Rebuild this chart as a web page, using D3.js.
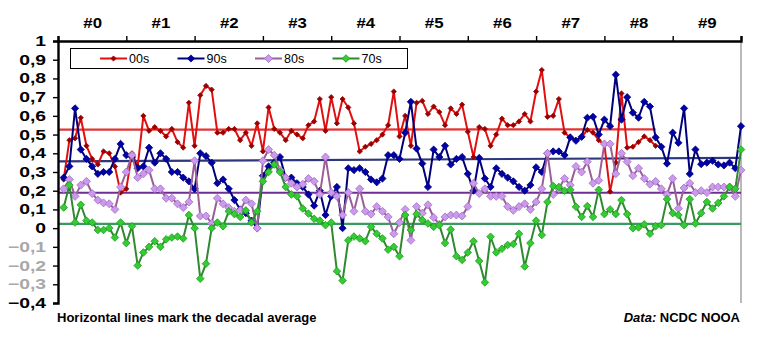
<!DOCTYPE html>
<html>
<head>
<meta charset="utf-8">
<script src="https://cdn.jsdelivr.net/npm/d3@7/dist/d3.min.js"></script>
<style>
  html, body { margin: 0; padding: 0; background: #fff; }
  svg { display: block; font-family: "Liberation Sans", Arial, sans-serif; }
</style>
</head>
<body>
<svg id="chart" width="762" height="345"></svg>
<script>
// ---------------- data ----------------
const seriesNames = ["00s", "90s", "80s", "70s"];
const yearLabels = ["#0", "#1", "#2", "#3", "#4", "#5", "#6", "#7", "#8", "#9"];
const yTicks = [-0.4, -0.3, -0.2, -0.1, 0, 0.1, 0.2, 0.3, 0.4, 0.5, 0.6, 0.7, 0.8, 0.9, 1];

// monthly anomalies, month 0 = January of year #0
const s00 = [0.26,0.47,0.48,0.59,0.44,0.37,0.34,0.41,0.40,0.33,0.19,0.21,
  0.40,0.33,0.60,0.52,0.54,0.52,0.49,0.53,0.46,0.43,0.67,0.44,
  0.71,0.76,0.74,0.51,0.51,0.53,0.53,0.47,0.51,0.44,0.56,0.41,
  0.645,0.53,0.51,0.47,0.52,0.50,0.48,0.55,0.57,0.69,0.52,0.70,
  0.56,0.69,0.645,0.56,0.41,0.435,0.45,0.47,0.50,0.55,0.73,0.49,
  0.60,0.44,0.67,0.68,0.61,0.65,0.62,0.55,0.64,0.61,0.66,0.515,
  0.38,0.54,0.53,0.44,0.50,0.585,0.55,0.55,0.57,0.61,0.57,0.73,
  0.845,0.595,0.60,0.69,0.51,0.485,0.47,0.485,0.525,0.51,0.47,0.445,
  0.195,0.35,0.72,0.43,0.435,0.46,0.49,0.47,0.44];
const s90 = [0.27,0.33,0.64,0.42,0.37,0.33,0.29,0.30,0.30,0.37,0.45,0.39,
  0.38,0.32,0.33,0.43,0.35,0.40,0.37,0.30,0.30,0.27,0.25,0.21,
  0.40,0.385,0.35,0.24,0.26,0.21,0.15,0.10,0.08,0.04,0.0,0.28,
  0.33,0.35,0.38,0.27,0.27,0.24,0.22,0.18,0.12,0.20,0.07,0.17,
  0.22,0.0,0.32,0.31,0.32,0.30,0.26,0.245,0.265,0.39,0.39,0.37,
  0.51,0.675,0.425,0.345,0.22,0.42,0.38,0.44,0.34,0.37,0.38,0.29,
  0.20,0.375,0.265,0.22,0.32,0.29,0.27,0.25,0.22,0.20,0.23,0.325,
  0.30,0.40,0.41,0.41,0.39,0.485,0.467,0.488,0.59,0.595,0.50,0.58,
  0.545,0.82,0.58,0.70,0.617,0.59,0.675,0.65,0.485,0.435,0.345,0.51,
  0.456,0.64,0.29,0.42,0.342,0.35,0.36,0.34,0.335,0.35,0.32,0.545];
const s80 = [0.21,0.26,0.17,0.23,0.25,0.185,0.15,0.135,0.13,0.10,0.22,0.30,
  0.39,0.27,0.29,0.31,0.21,0.21,0.16,0.16,0.13,0.11,0.14,0.36,
  0.065,0.065,0.025,0.16,0.13,0.11,0.09,0.095,0.15,0.13,0.0,0.36,
  0.42,0.39,0.31,0.27,0.24,0.22,0.235,0.265,0.25,0.18,0.38,0.19,
  0.17,0.07,0.19,0.09,0.21,0.09,0.075,0.115,0.09,0.06,-0.03,0.03,
  0.10,-0.065,0.115,0.08,0.125,0.057,0.02,0.06,0.07,0.07,0.065,0.115,
  0.24,0.185,0.21,0.17,0.17,0.17,0.115,0.095,0.115,0.13,0.10,0.14,
  0.21,0.40,0.18,0.21,0.265,0.23,0.33,0.30,0.355,0.24,0.255,0.45,
  0.45,0.29,0.40,0.355,0.28,0.32,0.265,0.235,0.25,0.21,0.18,0.265,
  0.105,0.215,0.24,0.19,0.20,0.19,0.22,0.22,0.22,0.22,0.17,0.31];
const s70 = [0.11,0.23,0.03,0.125,0.04,0.03,-0.01,-0.01,0.0,-0.05,0.03,-0.08,
  0.01,-0.20,-0.13,-0.10,-0.07,-0.10,-0.06,-0.05,-0.045,-0.055,0.07,0.0,
  -0.27,-0.19,0.0,0.03,0.01,0.09,0.075,0.06,0.095,0.03,0.09,0.25,
  0.30,0.34,0.30,0.22,0.18,0.17,0.105,0.078,0.05,0.04,0.016,0.03,
  -0.23,-0.28,-0.065,-0.045,-0.055,-0.07,0.007,-0.03,-0.055,-0.115,-0.10,-0.15,
  0.07,-0.01,0.075,0.043,0.025,0.007,0.016,-0.08,-0.007,-0.15,-0.17,-0.13,
  -0.07,-0.175,-0.29,-0.046,-0.13,-0.11,-0.09,-0.085,-0.03,-0.205,-0.08,0.04,
  -0.037,0.14,0.225,0.22,0.20,0.205,0.114,0.06,0.118,0.06,0.205,0.075,
  0.10,0.075,0.15,0.075,0.0,0.004,0.02,-0.03,0.01,0.016,0.155,0.08,
  0.07,0.016,0.155,0.025,0.08,0.14,0.105,0.135,0.17,0.22,0.21,0.42];
// decadal averages (value at the left end and at the right end of each line)
const avgStart = [0.526, 0.357, 0.189, 0.023];
const avgEnd   = [0.528, 0.376, 0.189, 0.023];

const footNote = "Horizontal lines mark the decadal average";
const sourceLabel = "Data:";
const sourceName = " NCDC NOOA";

// ---------------- styles ----------------
const seriesData = [s00, s90, s80, s70];
const lineColors   = ["#e01010", "#00007a", "#9a5f9a", "#2f8a2f"];
const markerFill   = ["#9a0000", "#0000a8", "#cc99ee", "#33cc33"];
const markerStroke = ["#9a0000", "#00007a", "#a070c0", "#1f9a1f"];
const markerR      = [2.6, 3.6, 4.0, 3.8];
const avgColors    = ["#e23434", "#2e367c", "#6e2e94", "#3a9a62"];

// ---------------- scales ----------------
const svg = d3.select("#chart");
const x = d3.scaleLinear().domain([-1, 119]).range([58, 741]);
const y = d3.scaleLinear().domain([-0.4, 1]).range([303, 41]);

const diamond = {
  draw(ctx, size) {
    const r = Math.sqrt(size / 2);
    ctx.moveTo(0, -r); ctx.lineTo(r, 0); ctx.lineTo(0, r); ctx.lineTo(-r, 0); ctx.closePath();
  }
};

// right frame line
svg.append("line").attr("x1", x(119)).attr("x2", x(119))
  .attr("y1", y(1)).attr("y2", y(-0.4))
  .attr("stroke", "#8a8a8a").attr("stroke-width", 1.2);

// average lines
seriesData.forEach((d, k) => {
  svg.append("line")
    .attr("x1", x(-1)).attr("x2", x(d.length - 1))
    .attr("y1", y(avgStart[k])).attr("y2", y(avgEnd[k]))
    .attr("stroke", avgColors[k]).attr("stroke-width", 2.2);
});

// series
const line = d3.line().x((v, i) => x(i)).y(v => y(v));
seriesData.forEach((d, k) => {
  const g = svg.append("g");
  g.append("path").datum(d).attr("d", line)
    .attr("fill", "none").attr("stroke", lineColors[k])
    .attr("stroke-width", 2).attr("stroke-linejoin", "round");
  g.selectAll("path.m").data(d).join("path").attr("class", "m")
    .attr("transform", (v, i) => `translate(${x(i)},${y(v)})`)
    .attr("d", d3.symbol(diamond, 2 * markerR[k] * markerR[k]))
    .attr("fill", markerFill[k]).attr("stroke", markerStroke[k]).attr("stroke-width", 0.8);
});

// left axis
const fmt = v => (v === 0 ? "0" : v === 1 ? "1" : d3.format(".1f")(v).replace(".", ","));
const yAxis = svg.append("g").attr("transform", `translate(${x(-1)},0)`)
  .call(d3.axisLeft(y).tickValues(yTicks).tickFormat(fmt).tickSize(5).tickPadding(7));
yAxis.select(".domain").attr("stroke", "#000").attr("stroke-width", 2.4);
yAxis.selectAll(".tick line").attr("stroke", "#000").attr("stroke-width", 1.4);
yAxis.selectAll(".tick text")
  .attr("font-size", 14).attr("font-weight", "bold")
  .attr("font-family", "Liberation Sans, Arial, sans-serif")
  .attr("fill", v => (v < 0 && v > -0.35 ? "#a8a8a8" : "#000"))
  .each(function () {
    const w = this.getComputedTextLength();
    d3.select(this).attr("textLength", w * 1.38).attr("lengthAdjust", "spacingAndGlyphs");
  });

// top axis: year boundaries
const bounds = d3.range(0, 11).map(k => k * 12 - 1);
const topAxis = svg.append("g").attr("transform", `translate(0,${y(1)})`)
  .call(d3.axisTop(x).tickValues(bounds).tickFormat("").tickSize(5));
topAxis.select(".domain").attr("stroke", "#000").attr("stroke-width", 2.4);
topAxis.selectAll(".tick line").attr("stroke", "#000").attr("stroke-width", 1.4);

// year labels
const mids = yearLabels.map((t, k) => k * 12 + 5);
const labAxis = svg.append("g").attr("transform", `translate(0,${y(1)})`)
  .call(d3.axisTop(x).tickValues(mids).tickFormat((v, i) => yearLabels[i]).tickSize(0).tickPadding(13));
labAxis.select(".domain").remove();
labAxis.selectAll(".tick text")
  .attr("font-size", 15).attr("font-weight", "bold")
  .attr("font-family", "Liberation Sans, Arial, sans-serif").attr("fill", "#000")
  .each(function () {
    const w = this.getComputedTextLength();
    d3.select(this).attr("textLength", w * 1.12).attr("lengthAdjust", "spacingAndGlyphs");
  });

// legend
const legend = svg.append("g");
legend.append("rect").attr("x", 70.5).attr("y", 48.5).attr("width", 337).attr("height", 20)
  .attr("fill", "#fff").attr("stroke", "#000").attr("stroke-width", 1);
seriesNames.forEach((name, k) => {
  const lx = 100 + k * 77.5, ly = 58.5;
  legend.append("line").attr("x1", lx).attr("x2", lx + 27).attr("y1", ly).attr("y2", ly)
    .attr("stroke", lineColors[k]).attr("stroke-width", 2);
  legend.append("path").attr("transform", `translate(${lx + 13.5},${ly})`)
    .attr("d", d3.symbol(diamond, 2 * markerR[k] * markerR[k]))
    .attr("fill", markerFill[k]).attr("stroke", markerStroke[k]).attr("stroke-width", 0.8);
  legend.append("text").attr("x", lx + 29).attr("y", ly + 4.5)
    .attr("font-size", 12.5).attr("fill", "#000").text(name);
});

// footnotes
svg.append("text").attr("x", 57).attr("y", 322)
  .attr("font-size", 13).attr("font-weight", "bold").attr("fill", "#000").text(footNote);
const src = svg.append("text").attr("x", 740).attr("y", 322).attr("text-anchor", "end")
  .attr("font-size", 13).attr("font-weight", "bold").attr("fill", "#000");
src.append("tspan").attr("font-style", "italic").text(sourceLabel);
src.append("tspan").text(sourceName);
</script>
</body>
</html>
